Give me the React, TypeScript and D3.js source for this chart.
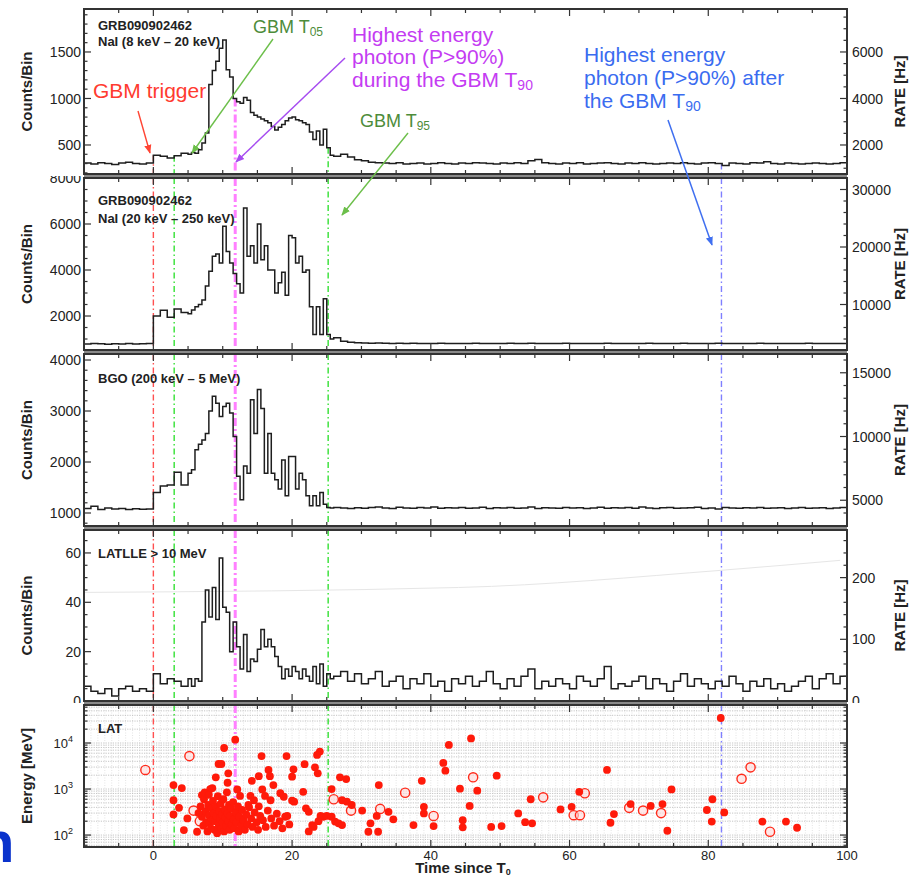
import React from 'react';
import * as d3 from 'd3';

// ---------- time bins (bin start times, seconds since T0) ----------
const preStarts = d3.range(-10, 5, 1);      // 15 bins
const burstStarts = d3.range(5, 26, 0.5);   // 42 bins
const postStarts = d3.range(26, 100, 1);    // 74 bins
const binStarts = [...preStarts, ...burstStarts, ...postStarts];

// ---------- NaI 8-20 keV ----------
const naiLowPre = [305, 295, 310, 300, 290, 305, 315, 300, 295, 305, 390, 380, 360, 385, 410];
const naiLowBurst = [400, 420, 410, 450, 520, 630, 1150, 1300, 1400, 1540, 1630, 1310, 1230, 1000, 965, 950, 1010, 980, 850, 820,
  800, 780, 760, 740, 700, 660, 690, 720, 760, 790, 800, 770, 760, 740, 720, 640, 560, 650, 500, 670, 470, 390];
const naiLowPost = [380, 400, 370, 340, 330, 315, 310, 305, 300, 310, 295, 300, 305, 295, 300, 310, 300, 295, 305, 300,
  310, 305, 300, 295, 305, 300, 310, 300, 330, 345, 310, 300, 295, 305, 300, 310, 295, 300, 305, 310,
  300, 295, 305, 300, 310, 300, 295, 300, 305, 300, 310, 300, 295, 305, 310, 300, 280, 305, 300, 295,
  310, 305, 320, 300, 295, 305, 300, 295, 300, 305, 300, 295, 300, 310];

// ---------- NaI 20-250 keV ----------
const naiHighPre = [780, 800, 790, 775, 795, 785, 800, 780, 790, 800, 2000, 2250, 1950, 2300, 2150];
const naiHighBurst = [2100, 2260, 2400, 2500, 2700, 3300, 3950, 4600, 4700, 4300, 5900, 4800, 4300, 3850, 3400, 3000, 6700, 4600, 5050, 4300,
  6000, 4450, 5050, 4000, 4000, 3000, 3450, 3900, 2900, 5500, 5400, 4300, 4600, 3900, 4000, 2400, 1200, 2400, 1200, 2750, 1200, 1000];
const naiHighPost = [1050, 900, 860, 840, 830, 820, 830, 815, 810, 820, 805, 815, 800, 810, 805, 815, 800, 810, 805, 800,
  815, 805, 800, 810, 805, 815, 800, 810, 820, 805, 800, 810, 805, 815, 800, 810, 805, 800, 810, 815,
  805, 800, 810, 805, 800, 815, 805, 810, 800, 805, 815, 800, 810, 805, 800, 815, 810, 800, 805, 810,
  800, 815, 805, 800, 810, 805, 800, 810, 815, 805, 800, 810, 805, 800];

// ---------- BGO 200 keV - 5 MeV ----------
const bgoPre = [1090, 1130, 1070, 1100, 1080, 1090, 1070, 1085, 1075, 1080, 1400, 1530, 1550, 1800, 1550];
const bgoBurst = [1780, 1850, 2240, 2350, 2430, 2560, 3000, 3290, 3150, 2890, 3090, 3150, 2960, 2500, 1720, 1260, 1920, 1780, 3220, 2560,
  3420, 3050, 1780, 2560, 1780, 1650, 1470, 2040, 1340, 2110, 2110, 1470, 1780, 1650, 1340, 1140, 1340, 1140, 1400, 1170, 1110, 1100];
const bgoPost = [1110, 1100, 1090, 1105, 1095, 1110, 1120, 1100, 1090, 1115, 1100, 1095, 1110, 1100, 1120, 1095, 1105, 1100, 1110, 1095,
  1100, 1115, 1090, 1105, 1100, 1110, 1095, 1100, 1120, 1090, 1105, 1100, 1095, 1110, 1100, 1105, 1090, 1100, 1115, 1095,
  1105, 1100, 1110, 1095, 1120, 1100, 1090, 1105, 1110, 1095, 1100, 1105, 1115, 1090, 1100, 1080, 1110, 1100, 1095, 1105,
  1100, 1110, 1095, 1100, 1105, 1090, 1100, 1110, 1095, 1100, 1105, 1090, 1100, 1110];

// ---------- LAT LLE > 10 MeV ----------
const llePre = [6, 4, 3, 5, 2, 5, 6, 4, 5, 4, 11, 7, 9, 8, 6];
const lleBurst = [9, 6, 9, 8, 32, 45, 34, 46, 33, 58, 38, 36, 20, 32, 22, 13, 27, 12, 17, 16,
  21, 29, 22, 25, 22, 18, 14, 9, 13, 10, 14, 12, 9, 13, 10, 8, 14, 7, 15, 6, 11, 9];
const llePost = [10, 12, 8, 11, 7, 9, 12, 6, 8, 10, 5, 9, 7, 11, 6, 8, 4, 9, 7, 10,
  6, 8, 12, 7, 5, 9, 6, 10, 13, 5, 8, 6, 9, 7, 5, 10, 8, 6, 9, 14,
  5, 7, 6, 8, 10, 5, 9, 7, 4, 8, 11, 6, 9, 7, 5, 8, 6, 10, 7, 4,
  8, 6, 9, 5, 7, 4, 6, 8, 10, 5, 9, 11, 7, 10];
const lleBkgT = [-10, 44, 82, 99];
const lleBkgV = [44, 46, 53, 57];

// ---------- LAT photons [time, energy MeV] ----------
const latPhotons: [number, number][] = [
  [2.9, 1220], [4.1, 1050], [2.9, 570], [3.7, 390], [2.9, 280], [4.9, 230], [4.4, 128], [6.3, 118], [7.0, 740],
  [11.8, 11800], [10.2, 7800], [9.4, 3500], [9.8, 3500], [10.8, 2200], [9.0, 1800], [10.7, 1370], [8.5, 1050], [8.2, 1000],
  [6.8, 420], [7.0, 250], [7.2, 160], [7.3, 600], [7.5, 330], [7.6, 190], [7.8, 120], [7.9, 450], [8.0, 270], [8.1, 180],
  [8.3, 140], [8.4, 380], [8.5, 220], [8.6, 550], [8.7, 300], [8.8, 130], [8.9, 200], [9.0, 420], [9.1, 260], [9.2, 110],
  [9.3, 700], [9.4, 170], [9.5, 330], [9.6, 230], [9.7, 480], [9.8, 140], [9.9, 280], [10.0, 190], [10.1, 600], [10.2, 120],
  [10.3, 360], [10.4, 240], [10.5, 160], [10.6, 850], [10.7, 300], [10.8, 200], [10.9, 450], [11.0, 130], [11.1, 260],
  [11.2, 380], [11.3, 170], [11.5, 520], [11.6, 220], [11.7, 140], [11.9, 310], [12.0, 190], [12.2, 420], [12.3, 120],
  [12.4, 250], [12.7, 160], [12.8, 350], [13.0, 210], [13.2, 130], [13.4, 280], [13.6, 170], [13.8, 400], [14.1, 230],
  [14.3, 150], [14.6, 310], [14.9, 190], [15.1, 130], [15.4, 260], [15.8, 210], [16.2, 150], [16.5, 340], [17.0, 230],
  [17.4, 160], [17.8, 290], [18.2, 200], [18.6, 140], [19.0, 250], [19.6, 170], [6.5, 300], [7.4, 850], [8.0, 750],
  [15.6, 5200], [16.6, 2600], [16.8, 1900], [15.2, 1900], [14.2, 1510], [15.7, 980], [17.3, 1220], [18.3, 810], [18.8, 680],
  [20.0, 560], [20.3, 530], [12.1, 980], [12.5, 710], [14.0, 710], [14.5, 570], [16.1, 710], [16.9, 570], [13.7, 450],
  [15.2, 420], [19.3, 260], [19.2, 5200], [20.2, 2680], [20.0, 1860], [21.8, 3470], [21.6, 870], [22.0, 380], [22.4, 320],
  [22.9, 165], [23.1, 150], [22.4, 120], [24.0, 6500], [23.6, 5500], [23.3, 2960], [23.7, 2190], [24.1, 260], [24.5, 250],
  [23.8, 200], [25.0, 260],
  [25.7, 1000], [26.9, 1800], [27.8, 1650], [27.2, 570], [27.9, 530], [28.6, 450], [25.7, 250], [26.2, 196], [26.7, 180],
  [27.2, 165], [30.1, 340], [31.3, 180], [32.2, 260], [33.9, 320], [34.6, 220], [31.0, 118], [32.4, 118], [32.5, 1220],
  [38.7, 1510], [39.0, 410], [39.0, 295], [37.5, 165], [40.4, 157], [41.8, 3700], [42.1, 2500], [42.6, 9100], [44.2, 1020],
  [45.8, 12600], [46.7, 920], [45.6, 430], [44.6, 210], [44.6, 147], [49.5, 1950], [48.7, 150], [50.2, 157], [52.6, 295],
  [53.6, 190], [54.6, 180], [54.4, 600], [58.7, 360], [60.3, 410], [61.4, 870], [65.4, 2600], [66.4, 285], [65.9, 185],
  [68.8, 470], [71.7, 430], [73.4, 470], [74.7, 980], [74.1, 124], [79.8, 350], [80.6, 600], [80.5, 196], [81.8, 35000],
  [82.3, 310], [87.8, 196], [91.2, 196], [92.8, 144],
];
const latPhotonsLowProb: [number, number][] = [
  [-1.15, 2600], [5.2, 5200], [5.8, 340], [6.7, 200], [26.0, 600], [28.5, 340], [32.7, 370], [36.3, 830], [40.4, 260],
  [46.1, 1800], [56.2, 660], [60.6, 270], [61.5, 270], [62.2, 810], [68.6, 390], [70.6, 340], [73.2, 300], [84.8, 1670],
  [86.1, 2960], [88.9, 118],
];

// ---------- event markers ----------
const markerTimes = [0, 3.0, 11.8, 25.2, 81.9];
const xTickLabels = [0, 20, 40, 60, 80, 100];

// ---------- layout ----------
const W = 919, H = 877;
const X0 = 84, X1 = 847;
const FONT = "'Liberation Sans', Arial, Helvetica, sans-serif";
const RATE_FACTOR = 4;

const markerStyles = [
  { color: '#ff5050', width: 1.4, dash: '6,3,1.5,3' },
  { color: '#33e033', width: 1.4, dash: '6,3,1.5,3' },
  { color: '#ff80ff', width: 3, dash: '8,3,2,3' },
  { color: '#33e033', width: 1.4, dash: '6,3,1.5,3' },
  { color: '#7f7fff', width: 1.4, dash: '6,3,1.5,3' },
];

type Panel = {
  key: string; top: number; bottom: number; domain: [number, number];
  counts: number[]; leftTicks: number[]; leftMinor: number; rightTicks: number[]; rightMinor: number;
  labels: string[]; labelY: number[];
};

const panels: Panel[] = [
  { key: 'p1', top: 9, bottom: 174, domain: [188, 1962], counts: [...naiLowPre, ...naiLowBurst, ...naiLowPost],
    leftTicks: [500, 1000, 1500], leftMinor: 100, rightTicks: [2000, 4000, 6000], rightMinor: 500,
    labels: ['GRB090902462', 'NaI (8 keV – 20 keV)'], labelY: [30, 46] },
  { key: 'p2', top: 178, bottom: 350, domain: [522, 8000], counts: [...naiHighPre, ...naiHighBurst, ...naiHighPost],
    leftTicks: [2000, 4000, 6000, 8000], leftMinor: 500, rightTicks: [10000, 20000, 30000], rightMinor: 2000,
    labels: ['GRB090902462', 'NaI (20 keV – 250 keV)'], labelY: [205, 223] },
  { key: 'p3', top: 354, bottom: 526, domain: [745, 4118], counts: [...bgoPre, ...bgoBurst, ...bgoPost],
    leftTicks: [1000, 2000, 3000, 4000], leftMinor: 200, rightTicks: [5000, 10000, 15000], rightMinor: 1000,
    labels: ['BGO (200 keV – 5 MeV)'], labelY: [383] },
  { key: 'p4', top: 530, bottom: 701, domain: [0, 69.3], counts: [...llePre, ...lleBurst, ...llePost],
    leftTicks: [0, 20, 40, 60], leftMinor: 5, rightTicks: [0, 100, 200], rightMinor: 20,
    labels: ['LATLLE > 10 MeV'], labelY: [558] },
];
const P5 = { top: 705, bottom: 847 };

function minorRange(d0: number, d1: number, step: number, majors: number[]) {
  const out: number[] = [];
  for (let v = Math.ceil(d0 / step) * step; v <= d1 + 1e-9; v += step) {
    if (!majors.some((m) => Math.abs(m - v) < 1e-6)) out.push(v);
  }
  return out;
}

export default function App() {
  const x = d3.scaleLinear().domain([-10, 100]).range([X0, X1]);
  const xMinor = d3.range(-5, 100, 5);

  const valueAt = (vals: number[], t: number) => {
    let idx = 0;
    for (let i = 0; i < binStarts.length; i++) if (binStarts[i] <= t) idx = i;
    return vals[idx];
  };

  const stepPath = (vals: number[], y: d3.ScaleLinear<number, number>) => {
    const pts: [number, number][] = binStarts.map((t, i) => [t, vals[i]]);
    pts.push([100, vals[vals.length - 1]]);
    return d3.line<[number, number]>().x((d) => x(d[0])).y((d) => y(d[1])).curve(d3.curveStepAfter)(pts) || '';
  };

  const yE = d3.scaleLog().domain([55, 67000]).range([P5.bottom, P5.top]);
  const logMajors = [100, 1000, 10000];
  const logMinors: number[] = [];
  [10, 100, 1000, 10000].forEach((dec) => {
    for (let k = 1; k <= 9; k++) {
      const v = k * dec;
      if (v >= 55 && v <= 67000 && !logMajors.includes(v)) logMinors.push(v);
    }
  });
  const gridH = [...logMinors, ...logMajors];
  const gridV = d3.range(-9, 100, 1);

  const timeTicks = (top: number, bottom: number) => (
    <g stroke="#333" strokeWidth={1.2}>
      {xMinor.map((t) => {
        const major = t % 20 === 0;
        const len = major ? 7 : 4;
        return (
          <g key={t}>
            <line x1={x(t)} x2={x(t)} y1={top} y2={top + len} />
            <line x1={x(t)} x2={x(t)} y1={bottom} y2={bottom - len} />
          </g>
        );
      })}
    </g>
  );

  const arrow = (id: string, color: string) => (
    <marker id={id} viewBox="0 0 10 10" refX={9} refY={5} markerWidth={9} markerHeight={9}
      markerUnits="userSpaceOnUse" orient="auto">
      <path d="M0,1 L10,5 L0,9 z" fill={color} />
    </marker>
  );

  return (
    <svg width={W} height={H} style={{ position: 'absolute', left: 0, top: 0, background: '#fff' }} fontFamily={FONT}>
      <defs>
        {panels.map((p) => (
          <clipPath id={`clip-${p.key}`} key={p.key}>
            <rect x={X0} y={p.top} width={X1 - X0} height={p.bottom - p.top} />
          </clipPath>
        ))}
        {panels.map((p) => (
          <clipPath id={`lab-${p.key}`} key={p.key}>
            <rect x={0} y={p.top - 2} width={W} height={p.bottom - p.top + 4} />
          </clipPath>
        ))}
        <clipPath id="clip-p5">
          <rect x={X0} y={P5.top} width={X1 - X0} height={P5.bottom - P5.top} />
        </clipPath>
        {arrow('ar-red', '#ff4433')}
        {arrow('ar-green', '#6cbf4a')}
        {arrow('ar-purple', '#a64cf0')}
        {arrow('ar-blue', '#3f6ff0')}
      </defs>

      <rect x={0} y={0} width={W} height={H} fill="#fff" />

      {/* light-curve panels */}
      {panels.map((p, pi) => {
        const y = d3.scaleLinear().domain(p.domain).range([p.bottom, p.top]);
        const yr = d3.scaleLinear().domain([p.domain[0] * RATE_FACTOR, p.domain[1] * RATE_FACTOR]).range([p.bottom, p.top]);
        const lMin = minorRange(p.domain[0], p.domain[1], p.leftMinor, p.leftTicks);
        const rMin = minorRange(p.domain[0] * RATE_FACTOR, p.domain[1] * RATE_FACTOR, p.rightMinor, p.rightTicks);
        return (
          <g key={p.key}>
            <g clipPath={`url(#clip-${p.key})`}>
              {markerTimes.map((t, i) => {
                const s = markerStyles[i];
                const yTop = pi === 0 ? y(valueAt(p.counts, t)) : p.top;
                return (
                  <line key={i} x1={x(t)} x2={x(t)} y1={yTop} y2={p.bottom} stroke={s.color}
                    strokeWidth={s.width} strokeDasharray={s.dash} />
                );
              })}
              {p.key === 'p4' && (
                <path
                  d={d3.line<number>().x((d, i) => x(lleBkgT[i])).y((d) => y(d)).curve(d3.curveMonotoneX)(lleBkgV) || ''}
                  fill="none" stroke="#e6e6e6" strokeWidth={1} />
              )}
              <path d={stepPath(p.counts, y)} fill="none" stroke="#1e1e1e" strokeWidth={1.5} />
            </g>
            <g stroke="#333" strokeWidth={1.2}>
              {p.leftTicks.map((v) => <line key={'l' + v} x1={X0} x2={X0 + 7} y1={y(v)} y2={y(v)} />)}
              {lMin.map((v) => <line key={'lm' + v} x1={X0} x2={X0 + 3.5} y1={y(v)} y2={y(v)} />)}
              {p.rightTicks.map((v) => <line key={'r' + v} x1={X1} x2={X1 - 7} y1={yr(v)} y2={yr(v)} />)}
              {rMin.map((v) => <line key={'rm' + v} x1={X1} x2={X1 - 3.5} y1={yr(v)} y2={yr(v)} />)}
            </g>
            <g clipPath={`url(#lab-${p.key})`} fontSize={14} fill="#222">
              {p.leftTicks.map((v) => (
                <text key={'lt' + v} x={81} y={y(v)} dy="0.36em" textAnchor="end">{v}</text>
              ))}
              {p.rightTicks.map((v) => (
                <text key={'rt' + v} x={852} y={yr(v)} dy="0.36em" textAnchor="start">{v}</text>
              ))}
            </g>
            {timeTicks(p.top, p.bottom)}
            {p.labels.map((l, i) => (
              <text key={l} x={98} y={p.labelY[i]} fontSize={13} fontWeight="bold" fill="#222">{l}</text>
            ))}
            <text transform={`translate(32,${(p.top + p.bottom) / 2}) rotate(-90)`} textAnchor="middle"
              fontSize={15} fontWeight="bold" fill="#222">Counts/Bin</text>
            <text transform={`translate(905,${(p.top + p.bottom) / 2}) rotate(-90)`} textAnchor="middle"
              fontSize={15} fontWeight="bold" fill="#222">RATE [Hz]</text>
          </g>
        );
      })}

      {/* LAT panel */}
      <g>
        <g clipPath="url(#clip-p5)">
          {gridV.map((t) => (
            <line key={'gv' + t} x1={x(t)} x2={x(t)} y1={P5.top} y2={P5.bottom} stroke="#d8d8d8"
              strokeWidth={0.7} strokeDasharray="1,1.5" />
          ))}
          {gridH.map((v) => (
            <line key={'gh' + v} x1={X0} x2={X1} y1={yE(v)} y2={yE(v)} stroke="#b8b8b8"
              strokeWidth={0.8} strokeDasharray="1.2,1.2" />
          ))}
          {markerTimes.map((t, i) => {
            const s = markerStyles[i];
            return (
              <line key={i} x1={x(t)} x2={x(t)} y1={P5.top} y2={P5.bottom} stroke={s.color}
                strokeWidth={s.width} strokeDasharray={s.dash} />
            );
          })}
          {latPhotonsLowProb.map((d, i) => (
            <circle key={'o' + i} cx={x(d[0])} cy={yE(d[1])} r={4.6} fill="#ffd8d8" fillOpacity={0.6}
              stroke="#ff2a1a" strokeWidth={1.4} />
          ))}
          {latPhotons.map((d, i) => (
            <circle key={'f' + i} cx={x(d[0])} cy={yE(d[1])} r={3.9} fill="#ff1a0a" />
          ))}
        </g>
        <g stroke="#333" strokeWidth={1.2}>
          {logMajors.map((v) => (
            <g key={'lm' + v}>
              <line x1={X0} x2={X0 + 7} y1={yE(v)} y2={yE(v)} />
              <line x1={X1} x2={X1 - 7} y1={yE(v)} y2={yE(v)} />
            </g>
          ))}
          {logMinors.map((v) => (
            <g key={'ln' + v}>
              <line x1={X0} x2={X0 + 3.5} y1={yE(v)} y2={yE(v)} />
              <line x1={X1} x2={X1 - 3.5} y1={yE(v)} y2={yE(v)} />
            </g>
          ))}
        </g>
        {timeTicks(P5.top, P5.bottom)}
        {logMajors.map((v) => (
          <text key={'le' + v} x={73} y={yE(v)} dy="0.36em" textAnchor="end" fontSize={13} fill="#222">
            10<tspan fontSize={9} dy="-0.6em">{Math.round(Math.log10(v))}</tspan>
          </text>
        ))}
        <text x={98} y={733} fontSize={13} fontWeight="bold" fill="#222">LAT</text>
        <text transform={`translate(32,${(P5.top + P5.bottom) / 2}) rotate(-90)`} textAnchor="middle"
          fontSize={15} fontWeight="bold" fill="#222">Energy [MeV]</text>
        {xTickLabels.map((t) => (
          <text key={'xt' + t} x={x(t)} y={860} textAnchor="middle" fontSize={13} fill="#222">{t}</text>
        ))}
        <text x={463} y={873} textAnchor="middle" fontSize={15} fontWeight="bold" fill="#222">
          Time since T<tspan fontSize={9} dy={2}>0</tspan>
        </text>
      </g>

      {/* panel frames and separators */}
      {[...panels.map((p) => [p.top, p.bottom]), [P5.top, P5.bottom]].map(([t, b], i, arr) => (
        <g key={'fr' + i}>
          {i < arr.length - 1 && (
            <rect x={X0} y={b} width={X1 - X0} height={arr[i + 1][0] - b} fill="#8a8a8a" />
          )}
          <rect x={X0} y={t} width={X1 - X0} height={b - t} fill="none" stroke="#333" strokeWidth={2} />
        </g>
      ))}

      {/* annotations */}
      <g fontFamily={FONT}>
        <text x={93} y={98} fontSize={21} fill="#ff3b2f">GBM trigger</text>
        <line x1={138} y1={111} x2={150} y2={153} stroke="#ff4433" strokeWidth={1.4} markerEnd="url(#ar-red)" />

        <text x={253} y={33} fontSize={18} fill="#4d8c3a">GBM T<tspan fontSize={12} dy={3}>05</tspan></text>
        <line x1={273} y1={39} x2={192} y2={153} stroke="#6cbf4a" strokeWidth={1.4} markerEnd="url(#ar-green)" />

        <text x={360} y={127} fontSize={18} fill="#4d8c3a">GBM T<tspan fontSize={12} dy={3}>95</tspan></text>
        <line x1={408} y1={133} x2={342} y2={215} stroke="#6cbf4a" strokeWidth={1.4} markerEnd="url(#ar-green)" />

        <text fontSize={21} fill="#c43cf2">
          <tspan x={352} y={42}>Highest energy</tspan>
          <tspan x={352} y={64}>photon (P&gt;90%)</tspan>
          <tspan x={352} y={87}>during the GBM T</tspan>
          <tspan fontSize={14} dy={3}>90</tspan>
        </text>
        <line x1={345} y1={58} x2={236} y2={162} stroke="#a64cf0" strokeWidth={1.5} markerEnd="url(#ar-purple)" />

        <text fontSize={21} fill="#3a6cf0">
          <tspan x={584} y={62}>Highest energy</tspan>
          <tspan x={584} y={85}>photon (P&gt;90%) after</tspan>
          <tspan x={584} y={108}>the GBM T</tspan>
          <tspan fontSize={14} dy={3}>90</tspan>
        </text>
        <line x1={668} y1={120} x2={712} y2={245} stroke="#3f6ff0" strokeWidth={1.5} markerEnd="url(#ar-blue)" />
      </g>

      <text x={-21} y={862} fontSize={58} fontWeight="bold" fill="#0a33cc">n</text>
    </svg>
  );
}
